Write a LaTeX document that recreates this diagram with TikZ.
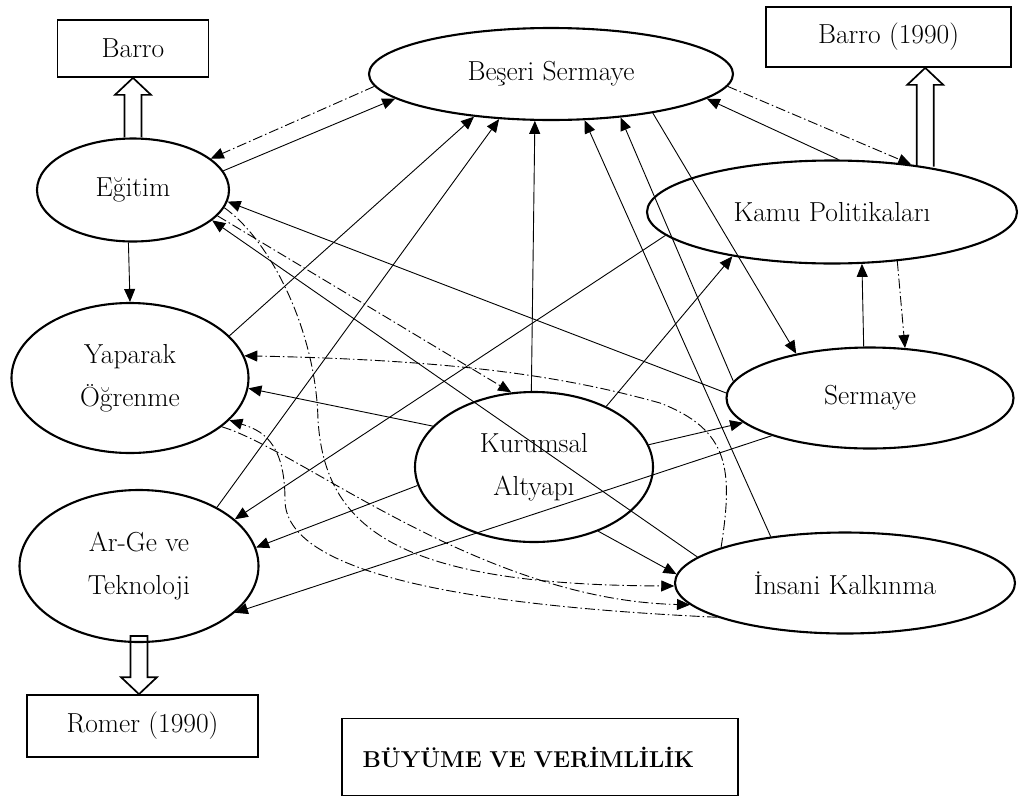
\documentclass[tikz,border=0pt]{standalone}
\usepackage{amsmath}
\usepackage{tikz}
\usetikzlibrary{arrows.meta,calc,shapes.geometric}

\begin{document}
\begin{tikzpicture}[x=1pt,y=-1pt,
  every node/.append style={font=\fontsize{27.5}{43}\selectfont},
  oval/.style={ellipse,draw,line width=2.1pt,align=center,inner sep=0pt},
  kutu/.style={rectangle,draw,line width=1.7pt,inner sep=0pt},
  ok/.style={line width=0.9pt,-{Triangle[length=13pt,width=11pt]}},
  okdd/.style={ok,dash pattern=on 10pt off 3pt on 1.5pt off 3pt},
  blok/.style={line width=1.7pt,line join=miter}]
  \useasboundingbox (0,0) rectangle (1024,798);

  \node[kutu,minimum width=151pt,minimum height=57pt](barro) at (133,48.5){Barro};
  \node[kutu,minimum width=245pt,minimum height=60pt](barro90) at (888.5,37){Barro (1990)};
  \node[kutu,minimum width=231pt,minimum height=62pt](romer) at (142.5,726){Romer (1990)};
  \node[kutu,minimum height=77pt,text width=355pt,inner xsep=20.5pt,align=left,
        font=\bfseries\fontsize{23}{27}\selectfont](buyume) at (540,757){BÜYÜME VE VERİMLİLİK};

  \node[oval,minimum width=364pt,minimum height=92pt](beseri) at (551,74){Beşeri Sermaye};
  \node[oval,minimum width=192pt,minimum height=103pt](egitim) at (133,190){Eğitim};
  \node[oval,minimum width=370pt,minimum height=103pt](kamu) at (832,212){Kamu Politikaları};
  \node[oval,minimum width=237pt,minimum height=150pt](yaparak) at (130,378){Yaparak\\Öğrenme};
  \node[oval,minimum width=238pt,minimum height=150pt](kurumsal) at (534,467){Kurumsal\\Altyapı};
  \node[oval,minimum width=287pt,minimum height=101pt](sermaye) at (870,398){Sermaye};
  \node[oval,minimum width=239pt,minimum height=152pt](arge) at (139,566){Ar-Ge ve\\Teknoloji};
  \node[oval,minimum width=340pt,minimum height=101pt](insani) at (845,583){İnsani Kalkınma};

  \draw[blok] let \p1=(barro.south), \p2=(egitim.north) in
    (\x1-8.5pt,\y2) -- (\x1-8.5pt,\y1-17pt) -- (\x1-18pt,\y1-17pt) -- (\x1,\y1)
    -- (\x1+18pt,\y1-17pt) -- (\x1+8.5pt,\y1-17pt) -- (\x1+8.5pt,\y2);
  \draw[blok] let \p1=(kamu.26), \p2=(barro90.south) in
    (\x1-8.5pt,\y1) -- (\x1-8.5pt,\y2-17pt) -- (\x1-18pt,\y2-17pt) -- (\x1,\y2)
    -- (\x1+18pt,\y2-17pt) -- (\x1+8.5pt,\y2-17pt) -- (\x1+8.5pt,\y1);
  \draw[blok] let \p1=(arge.south), \p2=(romer.north) in
    (\x1-8.5pt,\y1+7pt) -- (\x1-8.5pt,\y2+17pt) -- (\x1-18pt,\y2+17pt) -- (\x1,\y2)
    -- (\x1+18pt,\y2+17pt) -- (\x1+8.5pt,\y2+17pt) -- (\x1+8.5pt,\y1+7pt) -- cycle;

  \draw[ok] (egitim.12) -- (beseri.189);
  \draw[ok] (egitim.265) -- (yaparak.90);
  \draw[ok] (yaparak.23) -- (beseri.209);
  \draw[ok] (arge.37) -- (beseri.221);
  \draw[ok] (kurumsal.92) -- (beseri.251);
  \draw[ok] (insani.148) -- (beseri.306);
  \draw[ok] (sermaye.173) -- (beseri.328);
  \draw[ok] (beseri.339) -- (sermaye.149);
  \draw[ok] (kamu.83) -- (beseri.351);
  \draw[ok] (kamu.188) -- (arge.26);
  \draw[ok] (kurumsal.40) -- (kamu.204);
  \draw[ok] (sermaye.97) -- (kamu.300);
  \draw[ok] (sermaye.178) -- (egitim.353);
  \draw[ok] (kurumsal.11) -- (sermaye.191);
  \draw[ok] (sermaye.201) -- (arge.334);
  \draw[ok] (kurumsal.189) -- (arge.9);
  \draw[ok] (kurumsal.158) -- (yaparak.355);
  \draw[ok] (kurumsal.315) -- (insani.177);
  \draw[ok] (insani.170) -- (egitim.339);

  \draw[okdd] (beseri.184) -- (egitim.22);
  \draw[okdd] (egitim.343) -- (kurumsal.107);
  \draw[okdd] (beseri.356) -- (kamu.31);
  \draw[okdd] (kamu.323) -- (sermaye.55);
  \draw[okdd] (egitim.349) .. controls (270,240) and (316,330) .. (318,420)
    .. controls (325,530) and (400,585) .. (insani.181);
  \draw[okdd] (insani.195) .. controls (450,605) and (285,570) .. (285,500)
    .. controls (285,440) and (260,430) .. (yaparak.337);
  \draw[okdd] (yaparak.332) .. controls (300,450) and (480,600) .. (insani.188);
  \draw[okdd] (insani.164) .. controls (733,470) and (730,430) .. (660,403)
    .. controls (560,375) and (450,360) .. (yaparak.11);
\end{tikzpicture}
\end{document}
